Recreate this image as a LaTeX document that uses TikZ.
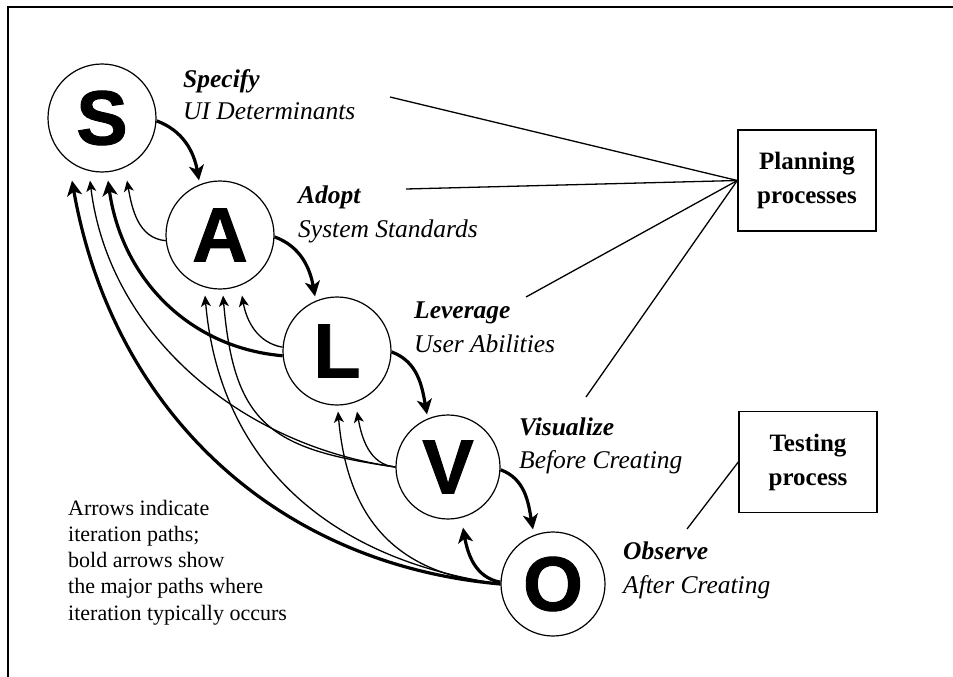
\documentclass[tikz,border=0pt]{standalone}
\usepackage{fontspec}
\setmainfont{Liberation Serif}
\newfontfamily\bigsans{Liberation Sans Bold}[FakeBold=1.2]
\usetikzlibrary{arrows.meta}
\begin{document}
\begin{tikzpicture}[x=1pt,y=1pt,
  stage/.style={circle,draw,line width=1.2pt,inner sep=0pt,font=\bigsans\fontsize{77}{77}\selectfont},
  bigstage/.style={stage,minimum size=108pt},
  smallstage/.style={stage,minimum size=104pt},
  lab/.style={anchor=base west,inner sep=0pt,font=\fontsize{25.5}{30}\selectfont\itshape},
  labb/.style={anchor=base west,inner sep=0pt,font=\fontsize{25.5}{30}\selectfont\bfseries\itshape},
  thinarrow/.style={line width=1.3pt,-{Stealth[length=11pt,width=10pt,inset=3pt]}},
  boldarrow/.style={line width=3.2pt,-{Stealth[length=15pt,width=15pt,inset=4pt]}},
  procbox/.style={draw,line width=1.4pt,minimum width=138pt,minimum height=101pt,align=center,inner sep=0pt,font=\fontsize{25}{34}\selectfont\bfseries},
  link/.style={line width=1.3pt},
  captext/.style={anchor=base west,inner sep=0pt,font=\fontsize{22}{26}\selectfont}]
\useasboundingbox (0,0) rectangle (953,-677);
% frame
\draw[line width=1.5pt] (8,-677) -- (8,-7) -- (953,-7);
% stages
\node[bigstage] (S) at (102,-118) {S};
\node[bigstage] (A) at (220,-235) {A};
\node[bigstage] (L) at (337,-351) {L};
\node[smallstage] (V) at (448,-467) {V};
\node[smallstage] (O) at (553,-584) {O};
% labels
\node[labb] (l1a) at (183,-88) {Specify};
\node[lab]  (l1b) at (183,-119) {UI Determinants};
\node[labb] (l2a) at (298,-203) {Adopt};
\node[lab]  (l2b) at (298,-237) {System Standards};
\node[labb] (l3a) at (414,-318) {Leverage};
\node[lab]  (l3b) at (414,-352) {User Abilities};
\node[labb] (l4a) at (519,-435) {Visualize};
\node[lab]  (l4b) at (519,-468) {Before Creating};
\node[labb] (l5a) at (623,-559) {Observe};
\node[lab]  (l5b) at (623,-593) {After Creating};
% process boxes
\node[procbox] (plan) at (807,-180.5) {Planning\\processes};
\node[procbox] (test) at (808,-462) {Testing\\process};
\coordinate (p1) at (390,-97);
\coordinate (p2) at (406,-189);
\coordinate (p3) at (526,-297);
\coordinate (p4) at (586,-397);
\coordinate (t1) at (687,-529);
\draw[link] (p1) -- (plan.west);
\draw[link] (p2) -- (plan.west);
\draw[link] (p3) -- (plan.west);
\draw[link] (p4) -- (plan.west);
\draw[link] (t1) -- (test.west);
% forward arrows
\draw[boldarrow] (S.-3) to[out=-20,in=100] ([xshift=-21pt]A.north);
\draw[boldarrow] (A.-2) to[out=-20,in=100] ([xshift=-22pt]L.north);
\draw[boldarrow] (L.-1) to[out=-20,in=100] ([xshift=-21pt]V.north);
\draw[boldarrow] (V.-3) to[out=-20,in=100] ([xshift=-20pt,yshift=2pt]O.north);
% iteration arrows
\draw[thinarrow] (A.186) to[out=175,in=-80] ([xshift=25pt,yshift=-8pt]S.south);
\draw[boldarrow] (L.185) to[out=175,in=-82] ([xshift=6pt,yshift=-8pt]S.south);
\draw[thinarrow] (V.180) to[out=172,in=-83,looseness=0.95] ([xshift=-12pt,yshift=-8pt]S.south);
\draw[boldarrow] (O.180) to[out=175,in=-80,looseness=1.0] ([xshift=-30pt,yshift=-8pt]S.south);
\draw[thinarrow] (L.176) to[out=170,in=-80] ([xshift=22pt,yshift=-6pt]A.south);
\draw[thinarrow] (V.180) to[out=172,in=-85,looseness=1.35] ([xshift=3pt,yshift=-6pt]A.south);
\draw[thinarrow] (O.180) to[out=172,in=-85,looseness=1.05] ([xshift=-15pt,yshift=-6pt]A.south);
\draw[thinarrow] (V.180) to[out=175,in=-80] ([xshift=20pt,yshift=-6pt]L.south);
\draw[thinarrow] (O.180) to[out=175,in=-85,looseness=1.15] ([xshift=1pt,yshift=-6pt]L.south);
\draw[boldarrow] (O.178) to[out=170,in=-80] ([xshift=15pt,yshift=-8pt]V.south);
% caption
\node[captext] (c1) at (68,-515) {Arrows indicate};
\node[captext] (c2) at (68,-541) {iteration paths;};
\node[captext] (c3) at (68,-567) {bold arrows show};
\node[captext] (c4) at (68,-593) {the major paths where};
\node[captext] (c5) at (68,-620) {iteration typically occurs};
\end{tikzpicture}
\end{document}
